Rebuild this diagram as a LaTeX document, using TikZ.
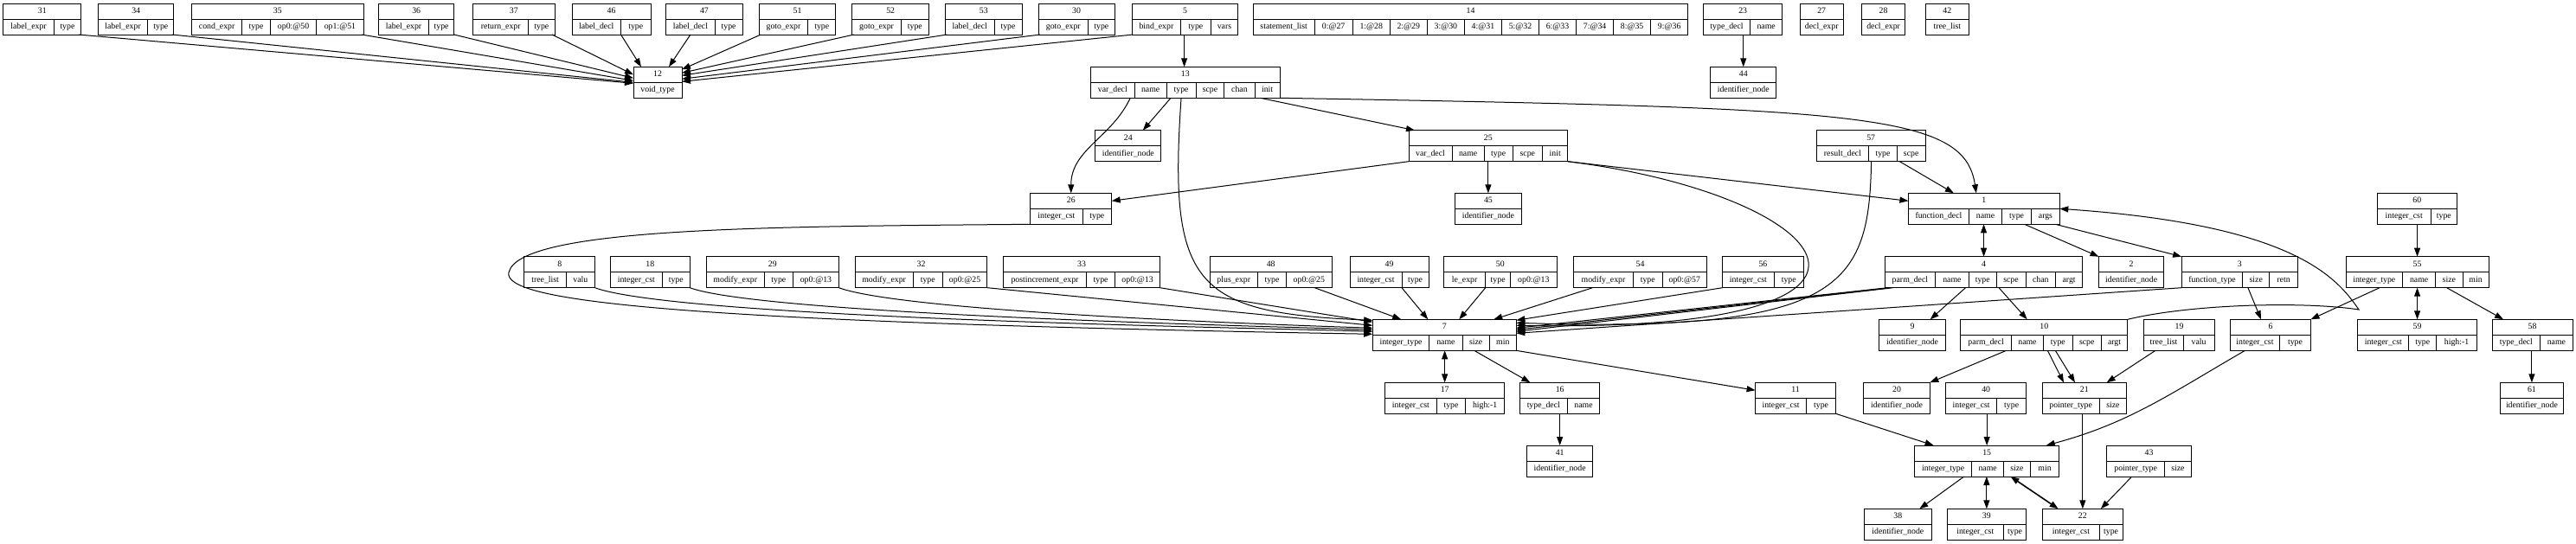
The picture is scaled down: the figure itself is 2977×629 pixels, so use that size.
\documentclass[tikz,border=0pt]{standalone}
\usepackage{fontspec}
\setmainfont{Liberation Serif}
\usetikzlibrary{arrows.meta}
\newcommand{\recfont}{\fontsize{9.8}{11}\selectfont}
% record: name, left x, top y, list of right-edge/label
\newcommand{\recnode}[4]{%
  \foreach \rx/\lab [count=\i, remember=\rx as \lx (initially #2)] in {#4} {%
    \node[reccell, minimum width={\rx-\lx}] (r#1-\i) at ({(\lx+\rx)/2},{-(#3)-27}) {\lab};
    \xdef\recright{\rx}}%
  \node[reccell, minimum width={\recright-#2}] (r#1) at ({(#2+\recright)/2},{-(#3)-9}) {#1};}

\begin{document}
\begin{tikzpicture}[x=1pt,y=1pt,>={Triangle[length=10pt,width=7pt]},
  reccell/.style={draw, line width=1pt, inner sep=0pt, outer sep=0pt, minimum height=18pt,
    text height=6.8pt, text depth=2pt, font=\recfont},
  conn/.style={->, line width=1pt},
  conn2/.style={<->, line width=1pt}]
\fill[white] (0,0) rectangle (2977,-629);
\useasboundingbox (0,0) rectangle (2977,-629);
\recnode{31}{3.8}{4}{62.2/label\_expr,93.7/type}
\recnode{34}{113.4}{4}{170.8/label\_expr,200.9/type}
\recnode{35}{221.5}{4}{279.8/cond\_expr,312.3/type,365.9/op0:@50,420/op1:@51}
\recnode{36}{437.6}{4}{495.5/label\_expr,524.7/type}
\recnode{37}{546.7}{4}{610.8/return\_expr,641/type}
\recnode{46}{661}{4}{717.5/label\_decl,752/type}
\recnode{47}{769.7}{4}{826.1/label\_decl,858.1/type}
\recnode{51}{877.3}{4}{933.7/goto\_expr,965.8/type}
\recnode{52}{984.9}{4}{1041.3/goto\_expr,1073.4/type}
\recnode{53}{1092.5}{4}{1149/label\_decl,1181/type}
\recnode{30}{1200.1}{4}{1257.5/goto\_expr,1288.1/type}
\recnode{5}{1308.2}{4}{1364.6/bind\_expr,1399.1/type,1430.7/vars}
\recnode{14}{1448.4}{4}{1519/statement\_list,1563.2/0:@27,1606.3/1:@28,1649.3/2:@29,1692.4/3:@30,1735.5/4:@31,1778.5/5:@32,1821.6/6:@33,1864.6/7:@34,1907.7/8:@35,1950.7/9:@36}
\recnode{23}{1968.5}{4}{2022.5/type\_decl,2059.8/name}
\recnode{27}{2080}{4}{2130.4/decl\_expr}
\recnode{28}{2151.6}{4}{2201.6/decl\_expr}
\recnode{42}{2225.1}{4}{2275.6/tree\_list}
\recnode{12}{732}{77.3}{788/void\_type}
\recnode{13}{1260.5}{77.3}{1311.2/var\_decl,1348/name,1382.1/type,1414.8/scpe,1450/chan,1479.1/init}
\recnode{44}{1976.6}{77.3}{2052.9/identifier\_node}
\recnode{24}{1265.8}{150.7}{1341.8/identifier\_node}
\recnode{25}{1628}{150.7}{1678/var\_decl,1715.3/name,1748/type,1782.7/scpe,1811.7/init}
\recnode{57}{2099.3}{150.7}{2159.6/result\_decl,2192.3/type,2225/scpe}
\recnode{26}{1190.8}{223.3}{1251/integer\_cst,1284.7/type}
\recnode{45}{1681.6}{223.3}{1758.2/identifier\_node}
\recnode{1}{2205.4}{223.3}{2275.5/function\_decl,2313.5/name,2347.6/type,2380.3/args}
\recnode{60}{2747.1}{223.3}{2809.3/integer\_cst,2839.4/type}
\recnode{8}{605.9}{296.7}{654.3/tree\_list,687.5/valu}
\recnode{18}{705.4}{296.7}{765.3/integer\_cst,797.2/type}
\recnode{29}{816.3}{296.7}{883.3/modify\_expr,916.5/type,969.4/op0:@13}
\recnode{32}{988.2}{296.7}{1055.1/modify\_expr,1089.3/type,1140.9/op0:@25}
\recnode{33}{1159.6}{296.7}{1255.4/postincrement\_expr,1288.8/type,1340.4/op0:@13}
\recnode{48}{1398}{296.7}{1453.6/plus\_expr,1486.4/type,1539.3/op0:@25}
\recnode{49}{1560}{296.7}{1620/integer\_cst,1651.1/type}
\recnode{50}{1668.5}{296.7}{1716.7/le\_expr,1745.6/type,1799.1/op0:@13}
\recnode{54}{1818.5}{296.7}{1887.5/modify\_expr,1921/type,1972.5/op0:@57}
\recnode{56}{1990.6}{296.7}{2050.2/integer\_cst,2084.3/type}
\recnode{4}{2178.6}{296.7}{2236.2/parm\_decl,2275.5/name,2307/type,2341/scpe,2375.7/chan,2406.5/argt}
\recnode{2}{2425.5}{296.7}{2500.8/identifier\_node}
\recnode{3}{2521.1}{296.7}{2591.9/function\_type,2622.6/size,2655.4/retn}
\recnode{55}{2711}{296.7}{2776.6/integer\_type,2814.6/name,2846/size,2876.1/min}
\recnode{7}{1586.2}{369.3}{1651.8/integer\_type,1690/name,1721.4/size,1752.3/min}
\recnode{9}{2171.4}{369.3}{2248.7/identifier\_node}
\recnode{10}{2265.7}{369.3}{2324.6/parm\_decl,2361.3/name,2395.4/type,2428.1/scpe,2458.9/argt}
\recnode{19}{2477.9}{369.3}{2523.1/tree\_list,2559.1/valu}
\recnode{6}{2577.5}{369.3}{2634.4/integer\_cst,2670.5/type}
\recnode{59}{2724.8}{369.3}{2783.7/integer\_cst,2815.8/type,2862.3/high:-1}
\recnode{58}{2880}{369.3}{2935.7/type\_decl,2973/name}
\recnode{17}{1600.8}{442.3}{1660/integer\_cst,1693.9/type,1738.5/high:-1}
\recnode{16}{1756.4}{442.3}{1811.2/type\_decl,1848.9/name}
\recnode{11}{2028.6}{442.3}{2087.5/integer\_cst,2121.6/type}
\recnode{20}{2153.7}{442.3}{2230.3/identifier\_node}
\recnode{40}{2248.7}{442.3}{2307.6/integer\_cst,2341.7/type}
\recnode{21}{2360}{442.3}{2426.2/pointer\_type,2457.6/size}
\recnode{61}{2889.2}{442.3}{2962.6/identifier\_node}
\recnode{41}{1764.7}{515}{1840.6/identifier\_node}
\recnode{15}{2212.6}{515}{2278.8/integer\_type,2315.5/name,2346.3/size,2379.7/min}
\recnode{43}{2434.7}{515}{2501.5/pointer\_type,2532.3/size}
\recnode{38}{2154.3}{588.3}{2232.3/identifier\_node}
\recnode{39}{2250}{588.3}{2315.5/integer\_cst,2341.7/type}
\recnode{22}{2360.7}{588.3}{2426.2/integer\_cst,2453/type}
% void_type
\draw[conn] ([xshift=-3pt]r31-2.south east) -- ([yshift=-10pt]r12.west);
\draw[conn] ([xshift=-2pt]r34-2.south east) -- ([yshift=-9pt]r12.west);
\draw[conn] ([xshift=-2pt]r35-4.south east) -- ([yshift=-7pt]r12.west);
\draw[conn] (r36-2.south east) -- ([yshift=-4pt]r12.west);
\draw[conn] ([xshift=-3pt]r37-2.south east) -- (r12.west);
\draw[conn] (r46-1.south east) -- ([xshift=-19pt]r12.north);
\draw[conn] (r47-1.south) -- ([xshift=13pt]r12.north);
\draw[conn] ([xshift=2pt]r51-1.south west) -- ([yshift=-3pt]r12.north east);
\draw[conn] ([xshift=2pt]r52-1.south west) -- ([yshift=-7pt]r12.north east);
\draw[conn] ([xshift=2pt]r53-1.south west) -- ([yshift=-10pt]r12.north east);
\draw[conn] ([xshift=2pt]r30-1.south west) -- ([yshift=-14pt]r12.north east);
\draw[conn] ([xshift=1pt]r5-1.south west) -- ([yshift=-17pt]r12.north east);
\coordinate (c5) at ([xshift=4pt]r5-2.south west);
\draw[conn] (c5) -- (c5 |- r13.north);
\draw[conn] (r44.north |- r23-1.south) -- (r44.north);
% var_decl
\draw[conn] ([xshift=5pt]r13-2.south east) -- ([xshift=17pt]r24.north);
\draw[conn] ([xshift=-5pt]r13-1.south east) to[out=-115,in=90] (r26.north);
\draw[conn] (r13-3.south) .. controls (1350,-330) and (1380,-362) .. ([yshift=8pt]r7.west);
\draw[conn] ([xshift=-8pt]r13-6.south) -- ([xshift=7pt]r25.north west);
\draw[conn] (r13-6.south east) .. controls (2150,-125) and (2270,-130) .. ([xshift=-9pt]r1.north);
\draw[conn] (r25-1.south west) -- (r26.east);
\draw[conn] (r45.north |- r25-3.south) -- (r45.north);
\draw[conn] (r25-5.south east) -- (r1.west);
\draw[conn] (r25-5.south east) .. controls (2120,-225) and (2260,-385) .. ([yshift=2pt]r7.east);
\draw[conn] ([xshift=3pt]r57-3.south west) -- ([xshift=-35pt]r1.north);
\draw[conn] ([xshift=3pt]r57-2.south west) .. controls (2160,-330) and (2130,-385) .. ([yshift=5pt]r7.east);
\draw[conn] (r26-1.south west) .. controls (900,-262) and (600,-262) .. (588,-315)
  .. controls (581,-347) and (760,-372) .. ([yshift=-8pt]r7.west);
% function_decl
\draw[conn2] (r4.north |- r1-2.south) -- (r4.north);
\draw[conn] ([xshift=-8pt]r1-3.south east) -- (r2.north west);
\draw[conn] ([xshift=-5pt]r1-4.south east) -- (r3.north west);
\draw[conn] ([xshift=-4pt]r4-2.south east) -- ([xshift=-18pt]r9.north east);
\draw[conn] ([xshift=3pt]r4-3.south east) -- ([xshift=77pt]r10.north west);
\foreach \s/\t in {3/-1,6/-3,9/-5}
  \draw[conn] ([xshift=\s pt]r4-1.south west) -- ([yshift=\t pt]r7.east);
\draw[conn] (r3-1.south west) -- ([yshift=-7pt]r7.east);
\draw[conn] ([xshift=6pt]r3-2.south west) -- ([xshift=-11pt]r6.north);
\draw[conn] (r56-1.south west) -- ([yshift=8pt]r7.east);
% integer_type 7
\draw[conn] ([xshift=-20pt]r48-3.south east) -- ([xshift=-50pt]r7.north);
\draw[conn] (r49-2.south west) -- ([xshift=-19pt]r7.north);
\draw[conn] (r50-1.south east) -- ([xshift=17pt]r7.north);
\draw[conn] ([xshift=22pt]r54-1.south west) -- ([xshift=57pt]r7.north);
\draw[conn] (r33-3.south east) -- ([yshift=6pt]r7.west);
\draw[conn] (r32-3.south east) -- ([yshift=2pt]r7.west);
\draw[conn] (r29-3.south east) to[out=-20,in=178,looseness=.35] ([yshift=-1pt]r7.west);
\draw[conn] (r18-2.south east) to[out=-20,in=178,looseness=.3] ([yshift=-3pt]r7.west);
\draw[conn] (r8-2.south east) to[out=-20,in=178,looseness=.3] ([yshift=-5pt]r7.west);
\draw[conn2] (r17.north |- r7-2.south) -- (r17.north);
\draw[conn] ([xshift=-2pt]r7-3.south) -- ([xshift=12pt]r16.north west);
\draw[conn] (r7-4.south east) -- (r11.west);
\draw[conn] (r41.north |- r16-1.south) -- (r41.north);
% parm_decl 10
\draw[conn] ([xshift=-6pt]r10-1.south east) -- (r20.north east);
\draw[conn] ([xshift=5pt]r10-3.south west) -- ([xshift=25pt]r21.north west);
\draw[conn] ([xshift=14pt]r10-3.south west) -- ([xshift=38pt]r21.north west);
\draw[conn] (r10.north east) .. controls (2530,-352) and (2660,-348) .. (2726,-358)
  .. controls (2700,-320) and (2650,-260) .. ([yshift=-9pt]r1.east);
\draw[conn] ([xshift=13pt]r19-1.south west) -- ([xshift=-23pt]r21.north east);
\draw[conn] (r22.north |- r21-1.south) -- (r22.north);
% integer_type 15
\draw[conn] ([xshift=17pt]r6-1.south west) to[out=210,in=15] ([xshift=-15pt]r15.north east);
\draw[conn] (r11-2.south east) -- ([xshift=22pt]r15.north west);
\draw[conn] (r15.north |- r40-1.south) -- (r15.north);
\draw[conn] ([xshift=-9pt]r15-1.south east) -- ([xshift=-14pt]r38.north east);
\draw[conn2] (r39.north |- r15-2.south) -- (r39.north);
\draw[conn2, line width=1.6pt] ([xshift=8pt]r15-3.south west) -- ([xshift=18pt]r22.north west);
\draw[conn] ([xshift=29pt]r43-1.south west) -- ([xshift=21pt]r22.north);
% integer_type 55
\draw[conn] (r55.north |- r60-1.south) -- (r55.north);
\draw[conn] ([xshift=39pt]r55-1.south west) -- (r6.north east);
\draw[conn2] (r59.north |- r55-2.south) -- (r59.north);
\draw[conn] ([xshift=13pt]r55-3.south west) -- ([xshift=13pt]r58.north west);
\draw[conn] (r61.north |- r58-1.south) -- (r61.north);
\end{tikzpicture}
\end{document}
